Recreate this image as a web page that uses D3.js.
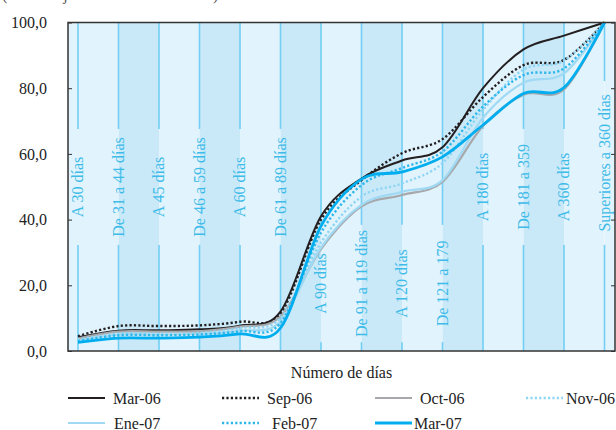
<!DOCTYPE html>
<html><head><meta charset="utf-8">
<script src="https://cdn.jsdelivr.net/npm/d3@7"></script>
<style>body{margin:0;background:#fff}svg{display:block}svg text{font-family:"Liberation Serif","Times New Roman",serif}</style>
</head><body>
<svg id="c" width="616" height="430"></svg>
<script>
const categories = ["A 30 días","De 31 a 44 días","A 45 días","De 46 a 59 días","A 60 días","De 61 a 89 días","A 90 días","De 91 a 119 días","A 120 días","De 121 a 179","A 180 días","De 181 a 359","A 360 días","Superiores a 360 días"];
const seriesNames = ["Mar-06","Sep-06","Oct-06","Nov-06","Ene-07","Feb-07","Mar-07"];
const mar06 = [4.2, 6.2, 6.3, 6.6, 7.7, 12.0, 41.0, 52.5, 58.0, 62.0, 80.0, 91.8, 96.0, 100];
const sep06 = [4.5, 7.6, 7.6, 7.8, 8.9, 11.5, 40.0, 52.0, 60.2, 64.5, 77.3, 87.0, 88.6, 100];
const oct06 = [3.8, 5.9, 5.9, 6.0, 7.4, 10.5, 31.0, 44.0, 47.5, 51.5, 68.5, 78.0, 79.6, 100];
const nov06 = [3.5, 5.3, 5.3, 5.5, 7.0, 10.0, 33.0, 47.0, 51.0, 57.2, 73.4, 85.7, 88.4, 100];
const ene07 = [3.2, 5.0, 5.0, 5.2, 6.2, 9.0, 31.5, 44.5, 48.5, 52.0, 71.0, 81.7, 84.5, 100];
const feb07 = [3.0, 4.8, 4.8, 5.0, 6.0, 8.5, 36.0, 50.5, 55.7, 60.7, 74.4, 84.0, 86.0, 100];
const mar07 = [2.6, 3.9, 3.9, 4.2, 5.2, 7.0, 38.0, 52.3, 54.5, 59.1, 68.8, 78.4, 80.2, 100];
const yTicks = [0, 20, 40, 60, 80, 100];
// label gap on each category line, in data units [low, high]
const labelGapLow  = [32.3,32.3,32.3,32.3,32.3,32.3, 2.7, 2.7, 2.7, 2.7,32.3,32.3,32.3,32.3];
const labelGapHigh = [67.6,67.6,67.6,67.6,67.6,67.6,38.4,38.4,38.4,38.4,67.6,67.6,67.6,82.2];

const allSeries = [mar06, sep06, oct06, nov06, ene07, feb07, mar07];
const styles = [
  {stroke:"#231f20", w:2, dash:null},
  {stroke:"#231f20", w:2.4, dash:"2.2,2.2"},
  {stroke:"#a6a8ab", w:2.2, dash:null},
  {stroke:"#8fd5f4", w:2.4, dash:"2.2,2.2"},
  {stroke:"#9fd9f3", w:2.2, dash:null},
  {stroke:"#2db6ea", w:2.4, dash:"2.2,2.2"},
  {stroke:"#00aeef", w:2.8, dash:null}
];

const svg = d3.select("#c");
const L = 68, R = 615, T = 22.5, B = 351;
const x = d3.scalePoint().domain(categories).range([78, 604.5]);
const y = d3.scaleLinear().domain([0, 100]).range([B, T]);

// partially cut title at top
svg.append("text").attr("x", 2).attr("y", 0).attr("font-size", 16)
  .attr("fill", "#555").text("(Porcentaje del total de la cartera)");

// background bands
const bandEdges = [L];
categories.forEach((c, i) => { if (i > 0) bandEdges.push(x(c)); });
bandEdges.push(R);
for (let i = 0; i < bandEdges.length - 1; i++) {
  svg.append("rect").attr("x", bandEdges[i]).attr("y", T)
    .attr("width", bandEdges[i + 1] - bandEdges[i]).attr("height", B - T)
    .attr("fill", (i % 2 === 1 && i < bandEdges.length - 2) ? "#c9e9f8" : "#e1f3fc");
}

// category lines with gaps and labels
const gLines = svg.append("g");
categories.forEach((c, i) => {
  const cx = x(c);
  gLines.append("line").attr("x1", cx).attr("x2", cx).attr("y1", T).attr("y2", y(labelGapHigh[i]))
    .attr("stroke", "#72cff3").attr("stroke-width", 1.6);
  gLines.append("line").attr("x1", cx).attr("x2", cx).attr("y1", y(labelGapLow[i])).attr("y2", B)
    .attr("stroke", "#72cff3").attr("stroke-width", 1.6);
  const yc = (y(labelGapLow[i]) + y(labelGapHigh[i])) / 2;
  gLines.append("text").attr("transform", `translate(${cx},${yc}) rotate(-90)`)
    .attr("text-anchor", "middle").attr("dy", "0.33em")
    .attr("font-size", 16).attr("fill", "#3dbbe9").text(c);
});

// series
const line = d3.line().x((d, i) => x(categories[i])).y(d => y(d)).curve(d3.curveCardinal.tension(0));
allSeries.forEach((s, k) => {
  const p = svg.append("path").datum(s).attr("d", line).attr("fill", "none")
    .attr("stroke", styles[k].stroke).attr("stroke-width", styles[k].w);
  if (styles[k].dash) p.attr("stroke-dasharray", styles[k].dash);
});

// frame
svg.append("rect").attr("x", L).attr("y", T).attr("width", R - L).attr("height", B - T)
  .attr("fill", "none").attr("stroke", "#333").attr("stroke-width", 1.5);

// y axis (left, ticks inward) and right ticks
const yAxis = d3.axisLeft(y).tickValues(yTicks).tickSize(-4).tickPadding(21)
  .tickFormat(d => d3.format(".1f")(d).replace(".", ","));
const gy = svg.append("g").attr("transform", `translate(${L},0)`).call(yAxis);
gy.attr("font-family", null);
gy.select(".domain").remove();
gy.selectAll("line").attr("stroke", "#333");
gy.selectAll("text").attr("font-size", 16).attr("fill", "#222");
const gyr = svg.append("g").attr("transform", `translate(${R},0)`)
  .call(d3.axisRight(y).tickValues(yTicks).tickSize(-4).tickFormat(""));
gyr.select(".domain").remove();
gyr.selectAll("line").attr("stroke", "#333");

// x title
svg.append("text").attr("x", (L + R) / 2).attr("y", 378).attr("text-anchor", "middle")
  .attr("font-size", 16).attr("fill", "#222").text("Número de días");

// legend
const legPos = [
  {lx: 68, tx: 113, row: 0}, {lx: 222, tx: 267, row: 0}, {lx: 375, tx: 420, row: 0}, {lx: 526, tx: 566, row: 0},
  {lx: 68, tx: 114, row: 1}, {lx: 222, tx: 272, row: 1}, {lx: 375, tx: 414, row: 1}
];
seriesNames.forEach((n, k) => {
  const p = legPos[k];
  const cy = 398 + p.row * 25;
  const ln = svg.append("line").attr("x1", p.lx).attr("x2", p.lx + 37).attr("y1", cy).attr("y2", cy)
    .attr("stroke", styles[k].stroke).attr("stroke-width", styles[k].w);
  if (styles[k].dash) ln.attr("stroke-dasharray", styles[k].dash);
  svg.append("text").attr("x", p.tx).attr("y", cy + 5.5).attr("font-size", 16)
    .attr("fill", "#222").text(n);
});
</script>
</body></html>
